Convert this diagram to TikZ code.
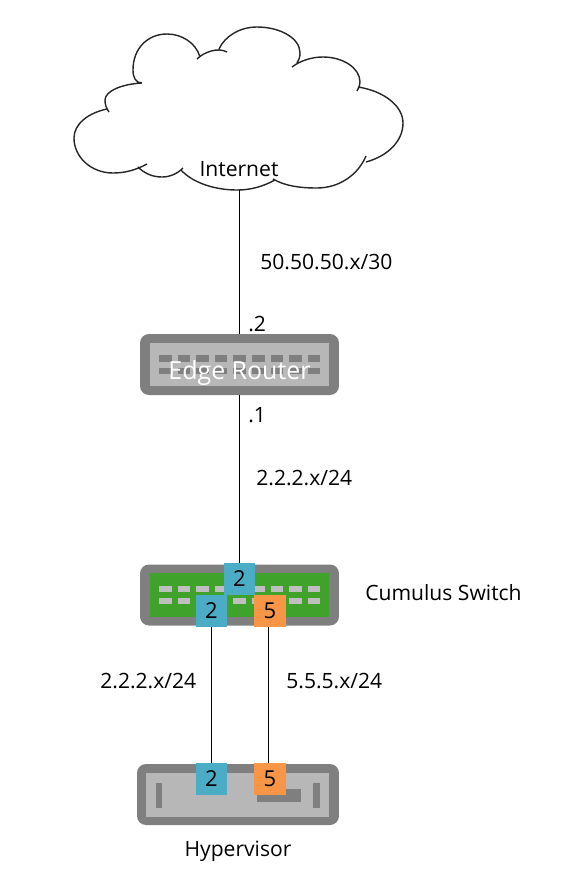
\documentclass[tikz,border=0pt]{standalone}
\usepackage{fontspec}
\setmainfont{Open Sans}
\tikzset{
 devbody/.style={fill=#1,draw=none,rounded corners=0.18cm,minimum width=3.98cm,minimum height=1.22cm,inner sep=0pt},
 devface/.style={fill=#1,draw=none,inner sep=0pt},
 portbox/.style={fill=#1,draw=none,minimum width=0.64cm,minimum height=0.64cm,inner sep=0pt,font=\fontsize{12.5}{14}\selectfont},
 label/.style={inner sep=0pt,font=\fontsize{12}{14}\selectfont},
 wire/.style={line width=0.8pt,black}
}
\definecolor{bodygray}{HTML}{7F7F7F}
\definecolor{facegray}{HTML}{B7B7B7}
\definecolor{lightport}{HTML}{BFBFBF}
\definecolor{swgreen}{HTML}{3FA32B}
\definecolor{vlanblue}{HTML}{4BACC6}
\definecolor{vlanorange}{HTML}{F79646}

\begin{document}
\begin{tikzpicture}[x=0.02cm,y=-0.02cm]
 \useasboundingbox (0,0) rectangle (563,880);

 % Internet cloud
 \draw [line width=0.8pt,black!85]
  (142,83) .. controls (136,83) and (133,78) .. (133,70) .. controls (133,48) and (148,34) .. (167,34) .. controls (182,34) and (196,43) .. (200,57)
  (197,59) .. controls (204,52) and (218,47) .. (227,52)
  (219,49) .. controls (225,36) and (240,27) .. (257,27) .. controls (280,27) and (300,38) .. (300,53) .. controls (300,57) and (299,60) .. (297,63)
  (292,67) .. controls (300,61) and (311,57) .. (323,57) .. controls (343,57) and (360,68) .. (360,82) .. controls (360,85) and (359,88) .. (357,91)
  (358,87) .. controls (384,91) and (403,106) .. (403,123) .. controls (403,141) and (388,156) .. (366,162)
  (366,156) .. controls (358,175) and (339,188) .. (317,188) .. controls (300,188) and (285,186) .. (273,179)
  (275,180) .. controls (262,187) and (250,190) .. (237,190) .. controls (215,190) and (193,183) .. (181,170)
  (183,168) .. controls (177,174) and (170,177) .. (162,177) .. controls (152,177) and (144,173) .. (138,167)
  (147,164) .. controls (136,170) and (125,173) .. (113,173) .. controls (91,173) and (74,157) .. (74,138) .. controls (74,124) and (88,113) .. (107,109)
  (109,112) .. controls (106,108) and (105,104) .. (105,100) .. controls (105,91) and (122,84) .. (142,83);
 \node [label] (internet) at (239,169) {Internet};
 \coordinate (cloudfoot) at (239.5,190);

 % Edge router
 \node [devbody=bodygray] (router) at (239.5,364.5) {};
 \node [devface=facegray,minimum width=3.6cm,minimum height=0.85cm] (routerface) at (239.5,364.5) {};
 \foreach \i in {0,...,8} {
  \fill [bodygray] (159+18.6*\i,355) rectangle +(12.6,6.6);
  \fill [bodygray] (159+18.6*\i,367.7) rectangle +(12.6,6.6);
 }
 \node [inner sep=0pt,text=white,font=\fontsize{14.2}{16}\selectfont] (routername) at (239.5,373.5) {Edge Router};

 % Cumulus switch
 \node [devbody=bodygray] (switch) at (239.5,595) {};
 \node [devface=swgreen,minimum width=3.6cm,minimum height=0.87cm] (switchface) at (239.5,595) {};
 \foreach \i in {0,...,8} {
  \fill [lightport] (159+18.6*\i,585.7) rectangle +(12.6,6.4);
  \fill [lightport] (159+18.6*\i,598) rectangle +(12.6,6.4);
 }
 \node [portbox=vlanblue] (swuplink) at (239.5,579) {2};
 \node [portbox=vlanblue] (swblue) at (211.5,611) {2};
 \node [portbox=vlanorange] (sworange) at (270,611) {5};
 \node [label,anchor=west] (switchname) at (365,593) {Cumulus Switch};

 % Hypervisor
 \node [devbody=bodygray,minimum width=4.04cm] (hyper) at (238,794.5) {};
 \node [devface=facegray,minimum width=3.66cm,minimum height=0.88cm] (hyperface) at (237.5,795.3) {};
 \fill [bodygray] (156,782.7) rectangle (162.3,807.7);
 \fill [bodygray] (313.3,782.7) rectangle (319.7,807.7);
 \fill [bodygray] (256.7,789) rectangle (300.7,801.7);
 \node [portbox=vlanblue] (hvblue) at (211.5,779) {2};
 \node [portbox=vlanorange] (hvorange) at (270,779) {5};
 \node [label] (hypername) at (238,851.5) {Hypervisor};

 % Links
 \draw [wire] (cloudfoot) -- (router.north);
 \draw [wire] (router.south) -- (swuplink.north);
 \draw [wire] (swblue.south) -- (hvblue.north);
 \draw [wire] ([xshift=-0.03cm]sworange.south) -- ([xshift=-0.03cm]hvorange.north);

 % Link labels
 \node [label,anchor=west] (wansubnet) at (260,262) {50.50.50.x/30};
 \node [label,anchor=west] (wanaddr) at (248,324) {.2};
 \node [label,anchor=west] (lanaddr) at (248,415) {.1};
 \node [label,anchor=west] (lansubnet) at (256,478) {2.2.2.x/24};
 \node [label,anchor=west] (bluesubnet) at (100,681) {2.2.2.x/24};
 \node [label,anchor=west] (orangesubnet) at (286,681) {5.5.5.x/24};
\end{tikzpicture}
\end{document}
